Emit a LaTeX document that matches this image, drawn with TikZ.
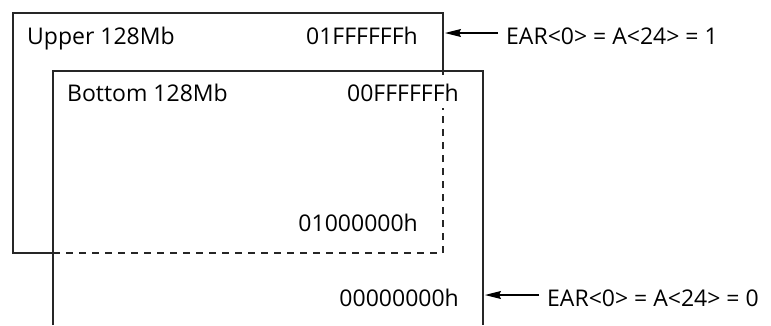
\documentclass[tikz,border=0pt]{standalone}
\usepackage{fontspec}
\setmainfont{Open Sans}
\usetikzlibrary{arrows.meta}
\begin{document}
\begin{tikzpicture}[x=1pt,y=-1pt,
  box/.style={line width=1.1pt, black!85},
  dashline/.style={line width=1.1pt, black!85, dash pattern=on 7pt off 6pt},
  lbl/.style={inner sep=0pt, font=\fontsize{23}{27}\selectfont},
  arr/.style={line width=1.1pt, -{Stealth[length=16pt,width=8pt,inset=2pt]}}]
\useasboundingbox (0,0) rectangle (771,325);
% upper 128Mb box
\draw[box] (53,253) -- (13,253) -- (13,13) -- (443,13) -- (443,75);
\draw[dashline] (53,253) -- (443,253) -- (443,108);
% bottom 128Mb box
\draw[box] (53,325) -- (53,71) -- (483,71) -- (483,325);
% labels
\node[lbl, anchor=base west] (up) at (27,44) {Upper 128Mb};
\node[lbl, anchor=base east] (a1) at (418,44) {01FFFFFFh};
\node[lbl, anchor=base west] (bt) at (67,101) {Bottom 128Mb};
\node[lbl, anchor=base east] (a2) at (459,101) {00FFFFFFh};
\node[lbl, anchor=base east] (a3) at (418,231) {01000000h};
\node[lbl, anchor=base east] (a4) at (459,306) {00000000h};
\node[lbl, anchor=base west] (e1) at (506,44) {EAR<0> = A<24> = 1};
\node[lbl, anchor=base west] (e0) at (547,306) {EAR<0> = A<24> = 0};
\coordinate (t1) at (445,33);
\coordinate (t0) at (485,295);
\draw[arr] ([shift={(-8pt,11pt)}]e1.base west) -- (t1);
\draw[arr] ([shift={(-8pt,11pt)}]e0.base west) -- (t0);
\end{tikzpicture}
\end{document}
